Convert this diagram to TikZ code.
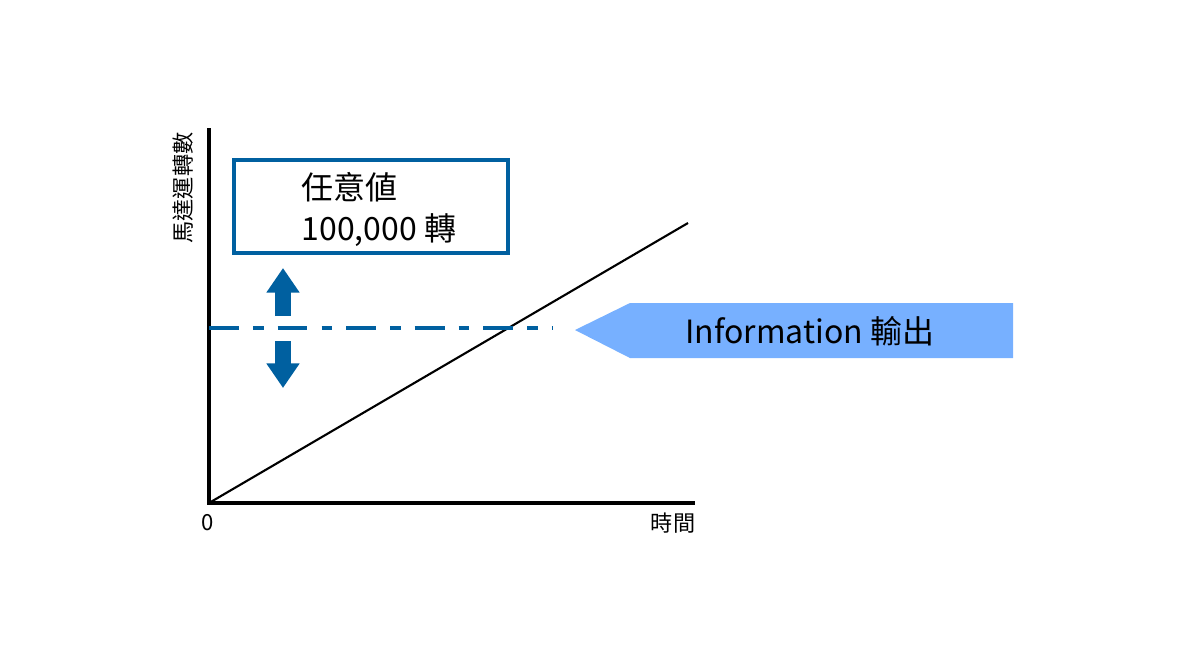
\documentclass[tikz,border=0pt]{standalone}
\usepackage{fontspec}
\setmainfont{Noto Sans CJK TC}
\usepackage{tikz}
\usetikzlibrary{arrows.meta}
\definecolor{darkblue}{HTML}{0060A0}
\definecolor{lightblue}{HTML}{77B0FF}
\begin{document}
\begin{tikzpicture}[x=0.01cm,y=-0.01cm,
                axis/.style={line width=1.2pt},
                txt/.style={font=\fontsize{9.1}{11}\selectfont,inner sep=0pt},
                bluearrow/.style={darkblue,line width=4.5pt,-{Triangle[width=9pt,length=7pt]}},
            ]
            \useasboundingbox (0,0) rectangle (1184,666);

            % axes
            \coordinate (origin) at (209,503);
            \coordinate (ytop) at (209,128);
            \coordinate (xend) at (695,503);
            \coordinate (lineend) at (688,223);
            \draw[axis] (ytop) -- (origin) -- (xend);
            \draw[line width=0.6pt] (origin) -- (lineend);

            \node[txt,font=\fontsize{6.3}{8}\selectfont,rotate=90] (ylabel) at (183,188) {馬達運轉數};
            \node[txt,font=\fontsize{6.3}{8}\selectfont] (zero) at (208,523) {0};
            \node[txt,font=\fontsize{6.3}{8}\selectfont] (xlabel) at (673,523) {時間};

            % set value box
            \node[draw=darkblue,line width=1.2pt,minimum width=274*0.01cm,minimum height=93*0.01cm,inner sep=0pt] (valbox) at (371,206.5) {};
            \node[txt,anchor=west] (val1) at (301,187) {任意値};
            \node[txt,anchor=west] (val2) at (301,230) {100,000 轉};

            % up / down arrows
            \coordinate (upA) at (283,316);
            \coordinate (upB) at (283,268);
            \coordinate (dnA) at (283,341);
            \coordinate (dnB) at (283,388);
            \draw[bluearrow] (upA) -- (upB);
            \draw[bluearrow] (dnA) -- (dnB);

            % threshold
            \coordinate (thA) at (209,328);
            \coordinate (thB) at (552,328);
            \draw[darkblue,line width=1.2pt,dash pattern=on 8.5pt off 4pt on 3pt off 4pt] (thA) -- (thB);

            % output arrow
            \fill[lightblue] (575,330) -- (630,303) -- (1013,303) -- (1013,358) -- (630,358) -- cycle;
            \node[txt] (info) at (810,331) {Information 輸出};
\end{tikzpicture}
\end{document}
